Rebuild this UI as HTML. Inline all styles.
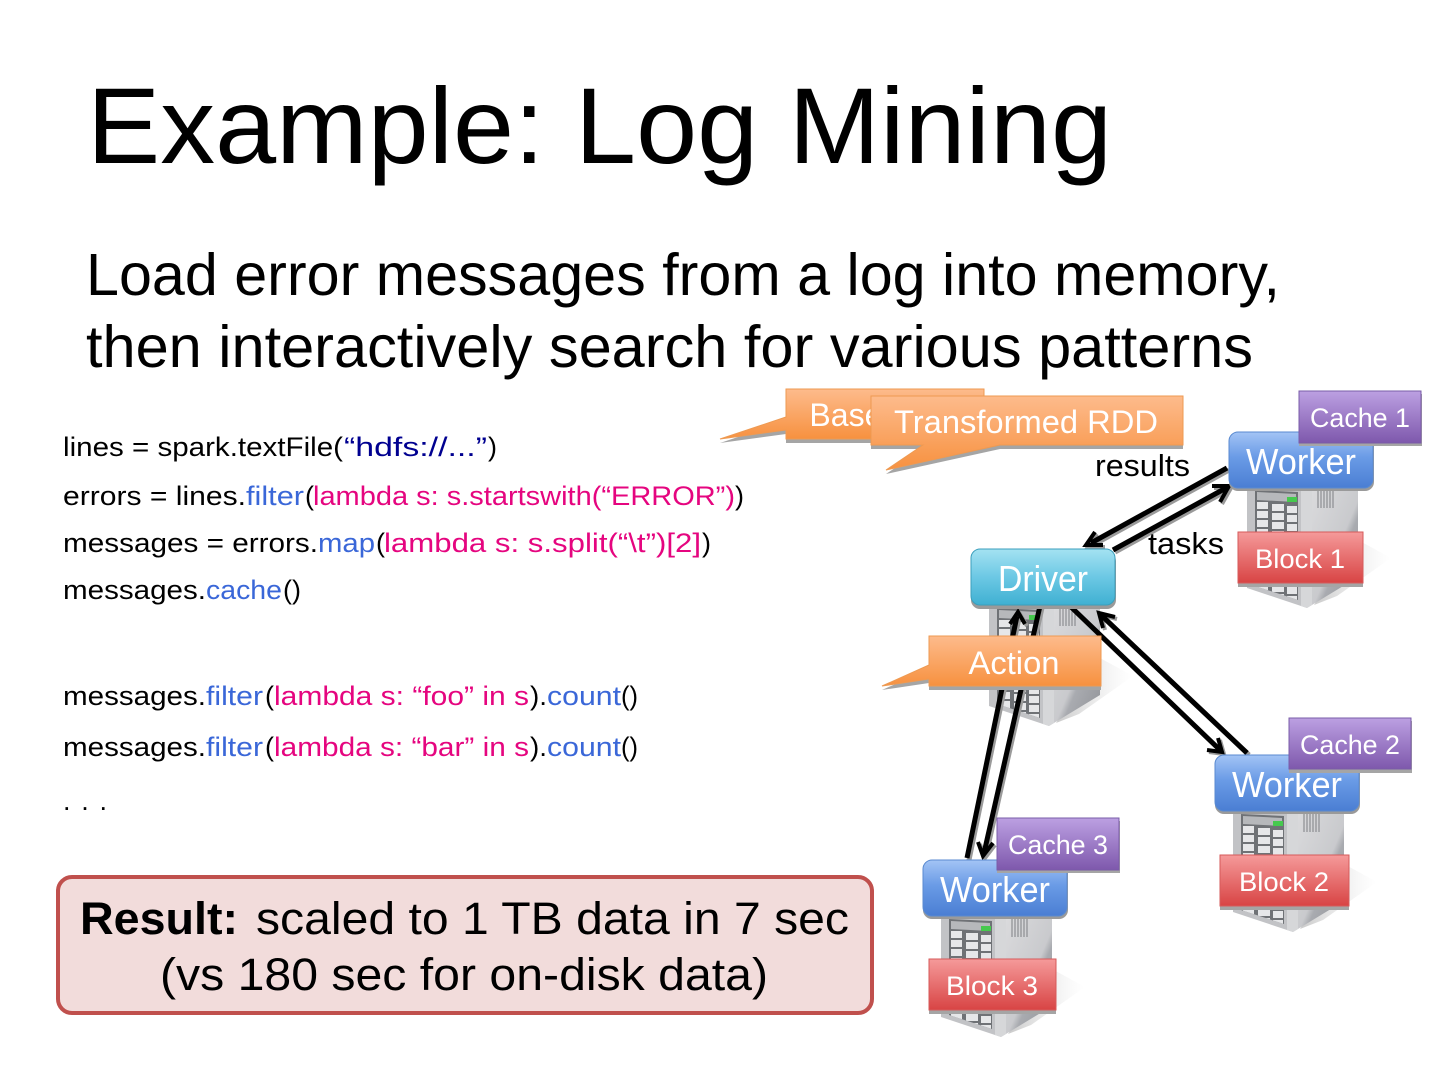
<!DOCTYPE html>
<html><head><meta charset="utf-8"><style>
html,body{margin:0;padding:0;background:#fff;width:1440px;height:1080px;overflow:hidden}
svg{display:block}
text{font-family:"Liberation Sans",sans-serif}
.code text{font-size:27px;fill:#000}
.code text.b{fill:#3a67d8}.code text.p{fill:#e5057f}.code text.n{fill:#000090}
.lab{fill:#fff;text-anchor:middle}
</style></head><body>
<svg width="1440" height="1080" viewBox="0 0 1440 1080" xmlns="http://www.w3.org/2000/svg">
<defs>
<linearGradient id="gb" x1="0" y1="0" x2="0" y2="1"><stop offset="0" stop-color="#a3c4f5"/><stop offset=".45" stop-color="#6a9be6"/><stop offset="1" stop-color="#4a7ed3"/></linearGradient>
<linearGradient id="gc" x1="0" y1="0" x2="0" y2="1"><stop offset="0" stop-color="#a4e2f2"/><stop offset=".5" stop-color="#6cc8e4"/><stop offset="1" stop-color="#3fb0d2"/></linearGradient>
<linearGradient id="gr" x1="0" y1="0" x2="0" y2="1"><stop offset="0" stop-color="#f59a9a"/><stop offset="1" stop-color="#d84444"/></linearGradient>
<linearGradient id="gv" x1="0" y1="0" x2="0" y2="1"><stop offset="0" stop-color="#bca0e2"/><stop offset="1" stop-color="#7e58ac"/></linearGradient>
<linearGradient id="go" x1="0" y1="0" x2="0" y2="1"><stop offset="0" stop-color="#fdbb8c"/><stop offset="1" stop-color="#f7913f"/></linearGradient>
<linearGradient id="gs" x1="0" y1="0" x2="1" y2="1"><stop offset="0" stop-color="#dcdcde"/><stop offset=".55" stop-color="#c9cacd"/><stop offset=".62" stop-color="#a9abb0"/><stop offset="1" stop-color="#8f9196"/></linearGradient>
<linearGradient id="gsh" x1="0" y1="0" x2="1" y2="0"><stop offset="0" stop-color="#c4c4c4" stop-opacity=".9"/><stop offset=".5" stop-color="#ddd" stop-opacity=".6"/><stop offset="1" stop-color="#eee" stop-opacity="0"/></linearGradient>
<clipPath id="inner"><polygon points="26,58 69,60 69,168 26,154"/></clipPath>
<g id="row"><rect x="28" y="0" width="11" height="7" fill="#e6e7e9"/><rect x="43" y="2" width="12" height="7" fill="#e6e7e9"/><rect x="58" y="4" width="10" height="7" fill="#e6e7e9"/></g>
<g id="srv">
  <polygon points="129,108 162,126 108,164 85,173" fill="url(#gsh)"/>
  <polygon points="18,56 78,56 78,176 18,156" fill="#c2c3c6"/>
  <polygon points="78,56 129,56 129,145 78,176" fill="url(#gs)"/>
  <polygon points="72,56 83,56 83,173 78,176 72,174" fill="#d6d7d9"/>
  <polygon points="26,58 69,60 69,168 26,154" fill="#6f7276"/>
  <polygon points="28,60 67,62 67,70 28,68" fill="#b6b8bb"/>
  <rect x="58" y="65" width="10" height="5" fill="#46c94e"/>
  <g clip-path="url(#inner)"><use href="#row" y="70"/><use href="#row" y="79"/><use href="#row" y="88"/><use href="#row" y="97"/><use href="#row" y="106"/><use href="#row" y="115"/><use href="#row" y="124"/><use href="#row" y="133"/><use href="#row" y="142"/><use href="#row" y="151"/><use href="#row" y="160"/></g>
  <g stroke="#7d7f83" stroke-width="1"><path d="M89 58v18M92 58v18M95 58v18M98 58v18M101 58v18M104 58v18"/></g>
</g>
<g id="conn" fill="none" stroke-linecap="butt" stroke-linejoin="miter">
  <path d="M1227 468L1091 543" stroke-width="5"/><path d="M1095 532L1086 545L1103 545" stroke-width="4"/>
  <path d="M1113 550L1226 488" stroke-width="5"/><path d="M1212 486L1229 486L1220 502" stroke-width="4"/>
  <path d="M1070 606L1220 750" stroke-width="5"/><path d="M1207 750L1222 752L1218 738" stroke-width="4"/>
  <path d="M1247 753L1101 615" stroke-width="5"/><path d="M1103 628L1099 613L1115 617" stroke-width="4"/>
  <path d="M1040 606L984 853" stroke-width="5"/><path d="M978 842L983 856L993 843" stroke-width="4"/>
  <path d="M967 858L1017 616" stroke-width="5"/><path d="M1010 624L1018 612L1025 624" stroke-width="4"/>
</g>
</defs>

<text x="87" y="163" font-size="108" textLength="1025" lengthAdjust="spacingAndGlyphs">Example: Log Mining</text>
<text x="86" y="295" font-size="59" textLength="1194" lengthAdjust="spacingAndGlyphs">Load error messages from a log into memory,</text>
<text x="86" y="367" font-size="59" textLength="1167" lengthAdjust="spacingAndGlyphs">then interactively search for various patterns</text>

<g class="code">
<text x="63" y="456" textLength="280" lengthAdjust="spacingAndGlyphs">lines = spark.textFile(</text><text class="n" x="344" y="456" textLength="143" lengthAdjust="spacingAndGlyphs">“hdfs://...”</text><text x="488" y="456">)</text>
<text x="63" y="505" textLength="183" lengthAdjust="spacingAndGlyphs">errors = lines.</text><text class="b" x="246" y="505" textLength="58" lengthAdjust="spacingAndGlyphs">filter</text><text x="305" y="505">(</text><text class="p" x="313" y="505" textLength="422" lengthAdjust="spacingAndGlyphs">lambda s: s.startswith(“ERROR”)</text><text x="735" y="505">)</text>
<text x="63" y="552" textLength="255" lengthAdjust="spacingAndGlyphs">messages = errors.</text><text class="b" x="318" y="552" textLength="57" lengthAdjust="spacingAndGlyphs">map</text><text x="376" y="552">(</text><text class="p" x="384" y="552" textLength="317" lengthAdjust="spacingAndGlyphs">lambda s: s.split(“\t”)[2]</text><text x="702" y="552">)</text>
<text x="63" y="599" textLength="143" lengthAdjust="spacingAndGlyphs">messages.</text><text class="b" x="206" y="599" textLength="76" lengthAdjust="spacingAndGlyphs">cache</text><text x="283" y="599" textLength="18" lengthAdjust="spacingAndGlyphs">()</text>
<text x="63" y="705" textLength="143" lengthAdjust="spacingAndGlyphs">messages.</text><text class="b" x="206" y="705" textLength="57" lengthAdjust="spacingAndGlyphs">filter</text><text x="265" y="705">(</text><text class="p" x="274" y="705" textLength="255" lengthAdjust="spacingAndGlyphs">lambda s: “foo” in s</text><text x="530" y="705" textLength="17" lengthAdjust="spacingAndGlyphs">).</text><text class="b" x="547" y="705" textLength="74" lengthAdjust="spacingAndGlyphs">count</text><text x="621" y="705" textLength="17" lengthAdjust="spacingAndGlyphs">()</text>
<text x="63" y="756" textLength="143" lengthAdjust="spacingAndGlyphs">messages.</text><text class="b" x="206" y="756" textLength="57" lengthAdjust="spacingAndGlyphs">filter</text><text x="265" y="756">(</text><text class="p" x="274" y="756" textLength="255" lengthAdjust="spacingAndGlyphs">lambda s: “bar” in s</text><text x="530" y="756" textLength="17" lengthAdjust="spacingAndGlyphs">).</text><text class="b" x="547" y="756" textLength="74" lengthAdjust="spacingAndGlyphs">count</text><text x="621" y="756" textLength="17" lengthAdjust="spacingAndGlyphs">()</text>
<text x="63" y="810" textLength="44" lengthAdjust="spacing">. . .</text>
</g>

<!-- Result box -->
<rect x="58" y="877" width="814" height="136" rx="14" fill="#f2dcdb" stroke="#c0504d" stroke-width="4"/>
<text x="80" y="934" font-size="45" font-weight="bold" textLength="158" lengthAdjust="spacingAndGlyphs">Result:</text>
<text x="256" y="934" font-size="45" textLength="593" lengthAdjust="spacingAndGlyphs">scaled to 1 TB data in 7 sec</text>
<text x="160" y="990" font-size="45" textLength="608" lengthAdjust="spacingAndGlyphs">(vs 180 sec for on-disk data)</text>

<!-- servers -->
<use href="#srv" x="1229" y="432"/>
<use href="#srv" x="971" y="550"/>
<use href="#srv" x="1215" y="756"/>
<use href="#srv" x="923" y="861"/>

<!-- connectors -->
<use href="#conn" transform="translate(2,2)" stroke="#9a9a9a"/>
<use href="#conn" stroke="#000"/>
<text x="1095" y="476" font-size="31" textLength="95" lengthAdjust="spacingAndGlyphs">results</text>
<text x="1148" y="554" font-size="31" textLength="76" lengthAdjust="spacingAndGlyphs">tasks</text>

<!-- base RDD callout -->
<polygon points="786,389 984,389 984,439 786,439 786,430 720,439 786,417" fill="#a5a5a5" transform="translate(0,4)"/>
<polygon points="786,389 984,389 984,439 786,439 786,430 720,439 786,417" fill="url(#go)" stroke="#ee9a52" stroke-width="1"/>
<text class="lab" x="885" y="426" font-size="32">Base RDD</text>
<!-- transformed callout -->
<polygon points="871,396 1183,396 1183,445 1000,445 886,470 923,445 871,445" fill="#a5a5a5" transform="translate(0,4)"/>
<polygon points="871,396 1183,396 1183,445 1000,445 886,470 923,445 871,445" fill="url(#go)" stroke="#ee9a52" stroke-width="1"/>
<text class="lab" x="1026" y="433" font-size="32" textLength="264" lengthAdjust="spacingAndGlyphs">Transformed RDD</text>

<!-- boxes -->
<g font-size="36">
 <rect x="1229" y="435" width="145" height="56" rx="9" fill="#9a9a9a"/>
 <rect x="1229" y="432" width="144" height="56" rx="9" fill="url(#gb)" stroke="#5a8ad0"/>
 <text class="lab" x="1301" y="474" textLength="110" lengthAdjust="spacingAndGlyphs">Worker</text>
 <rect x="971" y="552" width="145" height="57" rx="9" fill="#9a9a9a"/>
 <rect x="971" y="549" width="144" height="56" rx="9" fill="url(#gc)" stroke="#3b9fbc"/>
 <text class="lab" x="1043" y="591" textLength="90" lengthAdjust="spacingAndGlyphs">Driver</text>
 <rect x="1215" y="758" width="145" height="56" rx="9" fill="#9a9a9a"/>
 <rect x="1215" y="755" width="144" height="56" rx="9" fill="url(#gb)" stroke="#5a8ad0"/>
 <text class="lab" x="1287" y="797" textLength="110" lengthAdjust="spacingAndGlyphs">Worker</text>
 <rect x="923" y="863" width="145" height="56" rx="9" fill="#9a9a9a"/>
 <rect x="923" y="860" width="144" height="56" rx="9" fill="url(#gb)" stroke="#5a8ad0"/>
 <text class="lab" x="995" y="902" textLength="110" lengthAdjust="spacingAndGlyphs">Worker</text>
</g>
<g font-size="27">
 <rect x="1299" y="394" width="123" height="52" fill="#a5a5a5"/>
 <rect x="1299" y="391" width="122" height="52" fill="url(#gv)" stroke="#7a5ca8"/>
 <text class="lab" x="1360" y="427" textLength="100" lengthAdjust="spacingAndGlyphs">Cache 1</text>
 <rect x="1289" y="721" width="123" height="52" fill="#a5a5a5"/>
 <rect x="1289" y="718" width="122" height="51" fill="url(#gv)" stroke="#7a5ca8"/>
 <text class="lab" x="1350" y="754" textLength="100" lengthAdjust="spacingAndGlyphs">Cache 2</text>
 <rect x="997" y="821" width="123" height="52" fill="#a5a5a5"/>
 <rect x="997" y="818" width="122" height="52" fill="url(#gv)" stroke="#7a5ca8"/>
 <text class="lab" x="1058" y="854" textLength="100" lengthAdjust="spacingAndGlyphs">Cache 3</text>
 <rect x="1238" y="535" width="125" height="52" fill="#a5a5a5"/>
 <rect x="1238" y="532" width="125" height="51" fill="url(#gr)" stroke="#d65a5a"/>
 <text class="lab" x="1300" y="568" textLength="90" lengthAdjust="spacingAndGlyphs">Block 1</text>
 <rect x="1220" y="858" width="129" height="52" fill="#a5a5a5"/>
 <rect x="1220" y="855" width="129" height="51" fill="url(#gr)" stroke="#d65a5a"/>
 <text class="lab" x="1284" y="891" textLength="90" lengthAdjust="spacingAndGlyphs">Block 2</text>
 <rect x="929" y="962" width="127" height="52" fill="#a5a5a5"/>
 <rect x="929" y="959" width="127" height="51" fill="url(#gr)" stroke="#d65a5a"/>
 <text class="lab" x="992" y="995" textLength="92" lengthAdjust="spacingAndGlyphs">Block 3</text>
</g>

<!-- action callout -->
<polygon points="929,636 1101,636 1101,686 929,686 929,679 882,686 929,665" fill="#a5a5a5" transform="translate(0,4)"/>
<polygon points="929,636 1101,636 1101,686 929,686 929,679 882,686 929,665" fill="url(#go)" stroke="#ee9a52" stroke-width="1"/>
<text class="lab" x="1014" y="674" font-size="32" textLength="91" lengthAdjust="spacingAndGlyphs">Action</text>
</svg>
</body></html>
